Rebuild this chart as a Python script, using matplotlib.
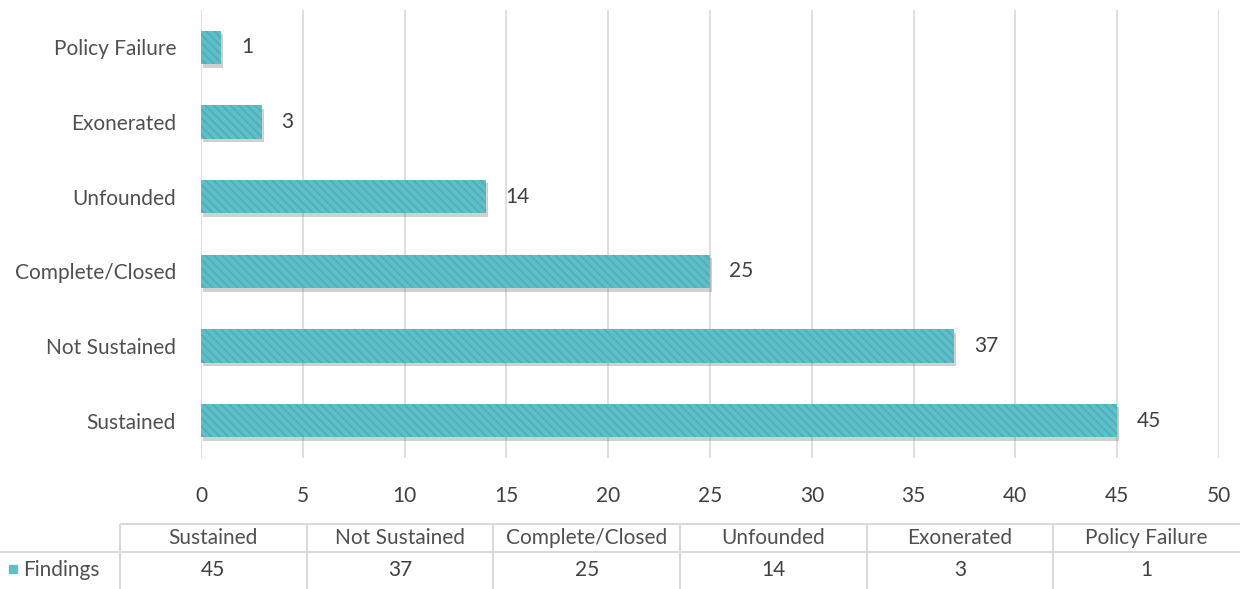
import matplotlib
matplotlib.use("Agg")
import matplotlib.pyplot as plt
import matplotlib.patheffects as pe
import numpy as np

categories = ['Sustained', 'Not Sustained', 'Complete/Closed', 'Unfounded', 'Exonerated', 'Policy Failure']
findings = [45, 37, 25, 14, 3, 1]
series_name = 'Findings'
x_ticks = [0, 5, 10, 15, 20, 25, 30, 35, 40, 45, 50]

bar_color = '#5ebfc9'
hatch_color = '#4eaeb9'
grid_color = '#d9d9d9'
text_color = '#505050'
num_color = '#404040'
fs = 15

plt.rcParams['font.family'] = ['Lato', 'DejaVu Sans']
plt.rcParams['hatch.linewidth'] = 1.3

fig = plt.figure(figsize=(12.4, 5.89), dpi=100)
W, H = 1240, 589

# main chart
ax = fig.add_axes([201 / W, 1 - 458 / H, (1219 - 201) / W, (458 - 10) / H])
y = np.arange(len(categories))
# plain bars underneath only to cast the soft shadow
under = ax.barh(y, findings, height=0.45, color=bar_color, linewidth=0, zorder=2)
for b in under:
    b.set_path_effects([pe.SimplePatchShadow(offset=(1.5, -2.5), shadow_rgbFace='#666666', alpha=0.3),
                        pe.Normal()])
bars = ax.barh(y, findings, height=0.45, color=bar_color, edgecolor=hatch_color,
               linewidth=0, hatch='\\\\\\\\', zorder=3)
ax.bar_label(bars, padding=14, fontsize=fs, color=num_color)

ax.set_xlim(0, 50)
ax.set_ylim(-0.5, len(categories) - 0.5)
ax.set_xticks(x_ticks)
ax.set_yticks(y)
ax.set_yticklabels(categories)
ax.xaxis.grid(True, color=grid_color, linewidth=1.2, zorder=0)
ax.set_axisbelow(True)
for s in ax.spines.values():
    s.set_visible(False)
ax.tick_params(axis='both', length=0, labelsize=fs, colors=text_color)
ax.tick_params(axis='x', pad=20, labelcolor=num_color)
ax.tick_params(axis='y', pad=18)

# data table under the chart
tab = fig.add_axes([0, 0, 1, (H - 523) / H])
tab.set_xlim(0, W)
tab.set_ylim(H, 523)
tab.axis('off')
left = 120
col_w = (W - left) / len(categories)
row_mid = 552
tab.hlines([524, row_mid], [left, 0], W, color=grid_color, linewidth=1.5)
for i in range(len(categories) + 1):
    xe = left + i * col_w
    if xe < W:
        tab.vlines(xe, 524, H, color=grid_color, linewidth=1.5)
for i, (c, v) in enumerate(zip(categories, findings)):
    xc = left + (i + 0.5) * col_w
    tab.text(xc, 538, c, ha='center', va='center', fontsize=fs, color=text_color)
    tab.text(xc, 570, str(v), ha='center', va='center', fontsize=fs, color=num_color)
tab.scatter([13], [569], marker='s', s=40, color=bar_color)
tab.text(23, 570, series_name, ha='left', va='center', fontsize=fs, color=text_color)

fig.savefig('out.png', dpi=100, facecolor='white')
